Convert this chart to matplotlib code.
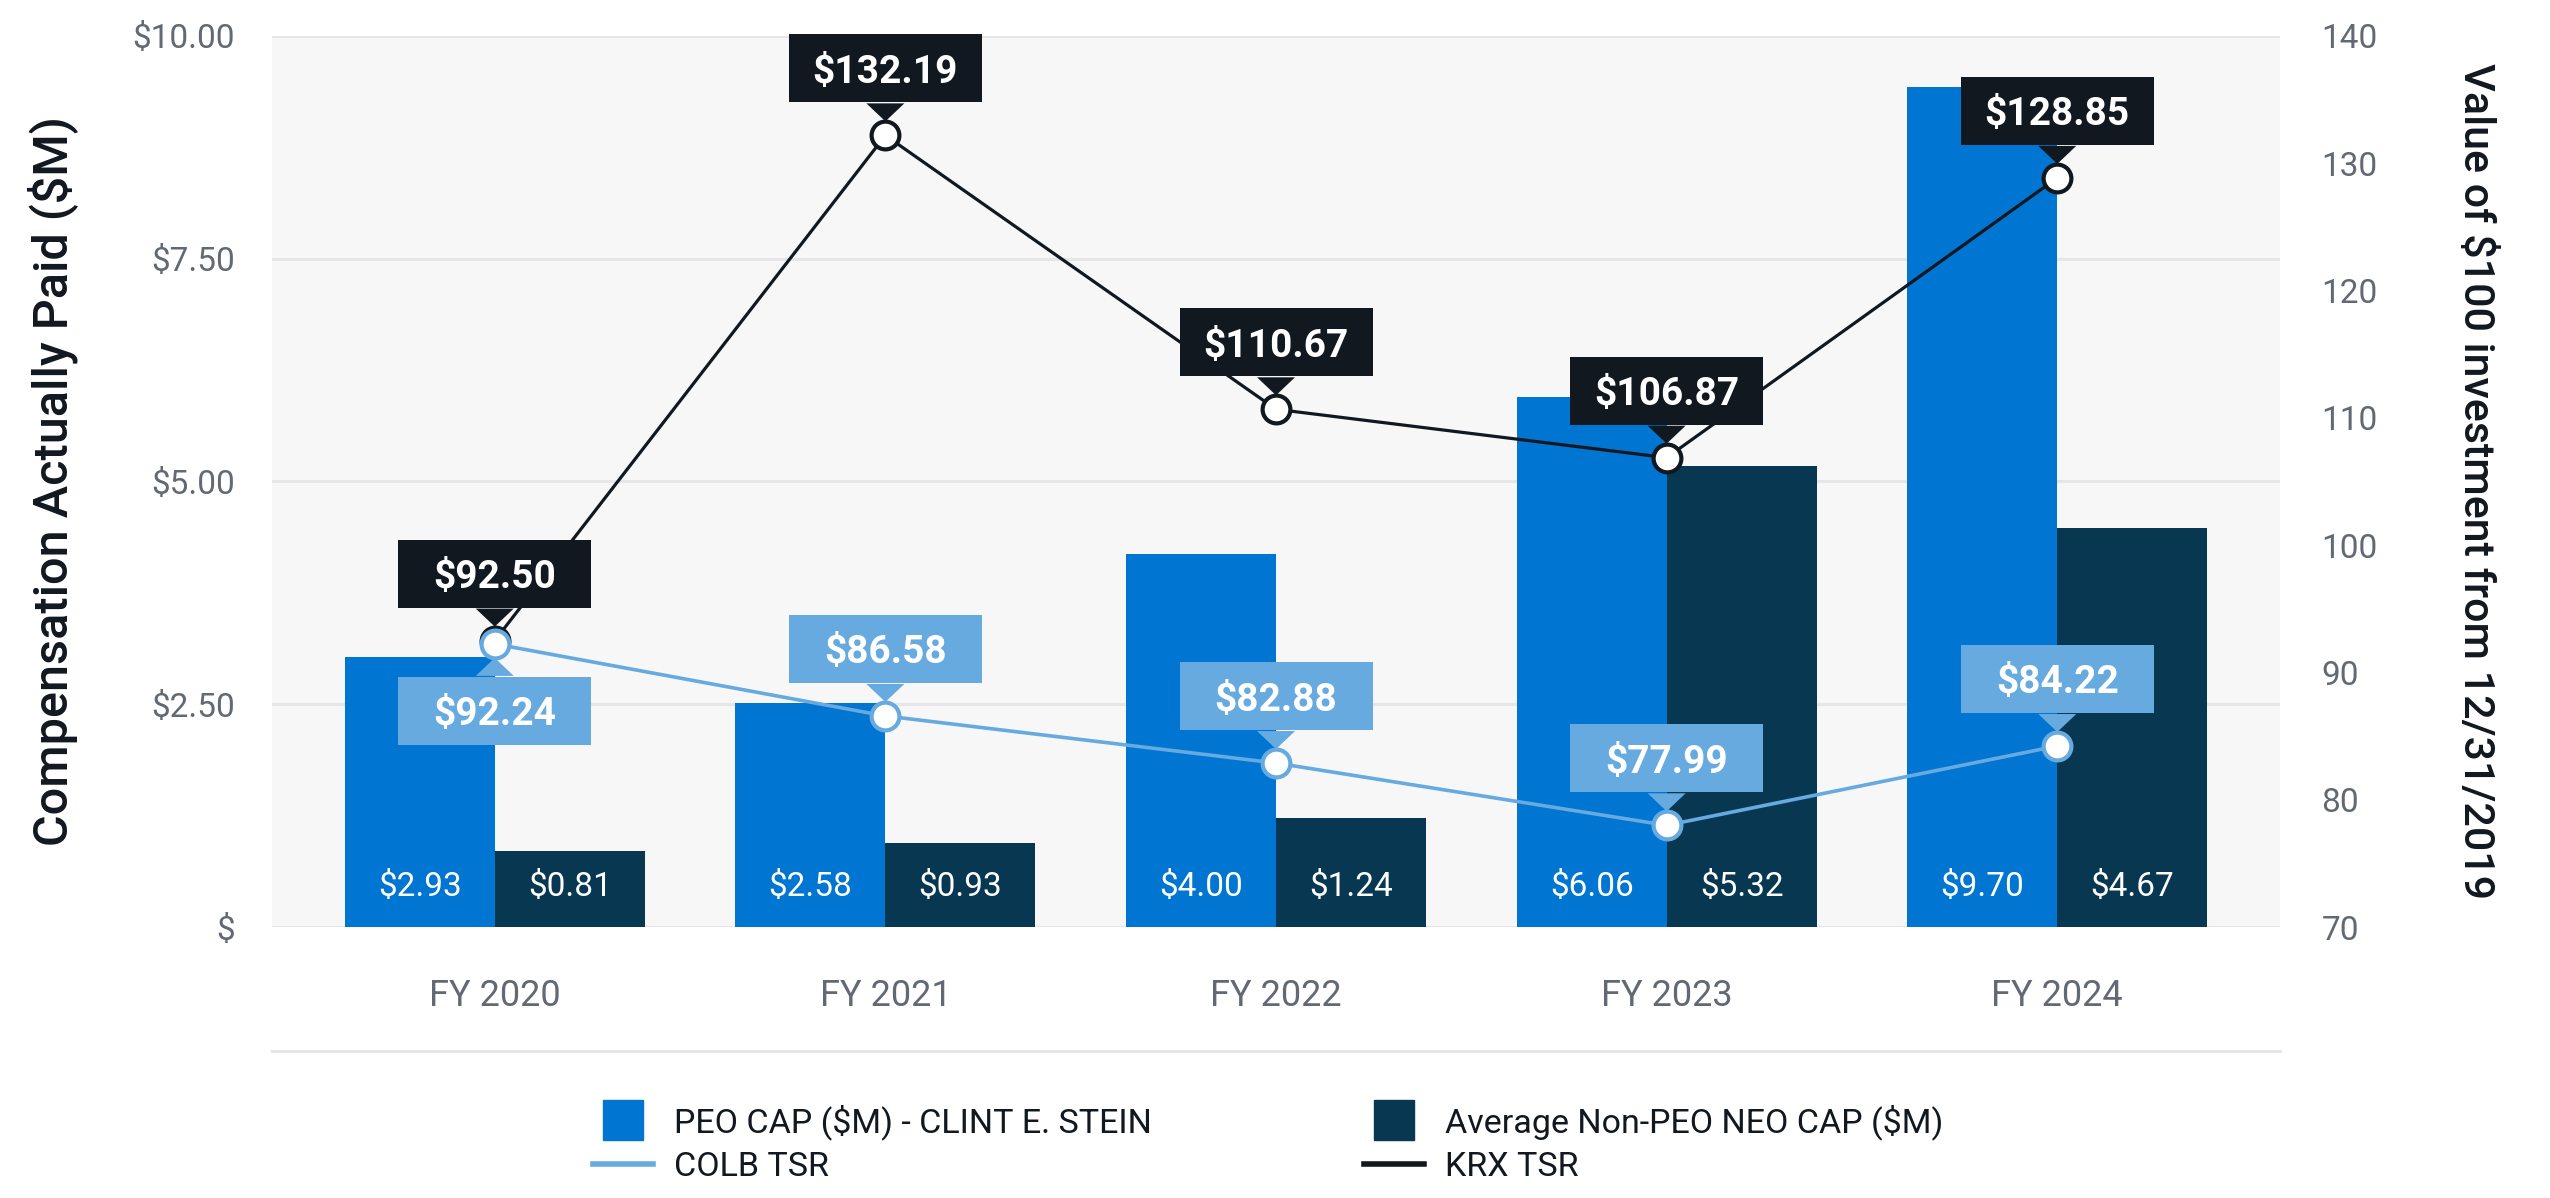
import matplotlib
matplotlib.use("Agg")
import matplotlib.pyplot as plt
from matplotlib.patches import Rectangle, Polygon
from matplotlib.transforms import ScaledTranslation
from matplotlib.lines import Line2D

plt.rcParams['font.family'] = ['Roboto', 'DejaVu Sans']

# data
years          = ["FY 2020", "FY 2021", "FY 2022", "FY 2023", "FY 2024"]
peo_cap        = [3.03, 2.51, 4.19, 5.95, 9.43]          # bar heights as drawn ($M)
peo_cap_labels = ["$2.93", "$2.58", "$4.00", "$6.06", "$9.70"]
neo_cap        = [0.85, 0.94, 1.22, 5.17, 4.48]
neo_cap_labels = ["$0.81", "$0.93", "$1.24", "$5.32", "$4.67"]
colb_tsr       = [92.24, 86.58, 82.88, 77.99, 84.22]
krx_tsr        = [92.50, 132.19, 110.67, 106.87, 128.85]

# colors
PEO   = "#0075D1"
NEO   = "#083752"
COLB  = "#66AAE0"
KRX   = "#111820"
BG    = "#F7F7F7"
GRID  = "#E6E6E9"
TICK  = "#626975"

fig = plt.figure(figsize=(25.5, 11.98), dpi=100)
fig.subplots_adjust(left=0.1067, right=0.8941, bottom=0.2262, top=0.970)
ax = fig.add_subplot(111)
ax2 = ax.twinx()

x = list(range(len(years)))
bw = 0.384

# bars
ax.bar([i - bw / 2 for i in x], peo_cap, width=bw, color=PEO, zorder=2)
ax.bar([i + bw / 2 for i in x], neo_cap, width=bw, color=NEO, zorder=2)
for i in x:
    ax.text(i - bw / 2, 0.45, peo_cap_labels[i], ha='center', va='center', color='white', fontsize=24, zorder=3)
    ax.text(i + bw / 2, 0.45, neo_cap_labels[i], ha='center', va='center', color='white', fontsize=24, zorder=3)

ax.set_xlim(-0.57, 4.57)
ax.set_ylim(0, 10)
ax.set_yticks([0, 2.5, 5, 7.5, 10])
ax.set_yticklabels(["$", "$2.50", "$5.00", "$7.50", "$10.00"])
ax.set_xticks(x)
ax.set_xticklabels(years)
ax.set_facecolor(BG)
ax.set_axisbelow(True)
ax.grid(axis='y', color=GRID, linewidth=2.2)
for s in ax.spines.values():
    s.set_visible(False)
for s in ax2.spines.values():
    s.set_visible(False)
ax.tick_params(axis='y', length=0, pad=27, labelsize=24, labelcolor=TICK)
ax.tick_params(axis='x', length=0, pad=37, labelsize=26, labelcolor=TICK)
ax.set_ylabel("Compensation Actually Paid ($M)", fontsize=35, fontweight='medium', color=KRX)
ax.yaxis.set_label_coords(-0.0966, 0.5)

# lines
ax2.plot(x, krx_tsr, color=KRX, lw=2.3, marker='o', ms=20, mfc='white', mec=KRX, mew=3, zorder=3)
ax2.plot(x, colb_tsr, color=COLB, lw=2.6, marker='o', ms=20, mfc='white', mec=COLB, mew=3, zorder=4)
ax2.set_ylim(70, 140)
ax2.set_yticks(range(70, 141, 10))
ax2.tick_params(axis='y', length=0, pad=30, labelsize=24, labelcolor=TICK)
ax2.set_ylabel("Value of $100 investment from 12/31/2019", fontsize=31, fontweight='medium',
               color=KRX, rotation=-90)
ax2.yaxis.set_label_coords(1.1076, 0.5)


def callout(axis, xv, yv, text, color, below=False):
    tr = fig.dpi_scale_trans + ScaledTranslation(xv, yv, axis.transData)
    w, h, gap, tip, half = 1.93, 0.68, 0.33, 0.14, 0.19
    if below:
        y0 = -gap - h
        tri = [(-half, -gap + 0.01), (half, -gap + 0.01), (0, -tip)]
    else:
        y0 = gap
        tri = [(-half, gap - 0.01), (half, gap - 0.01), (0, tip)]
    axis.add_patch(Rectangle((-w / 2, y0), w, h, transform=tr, fc=color, ec='none',
                             zorder=6, clip_on=False))
    axis.add_patch(Polygon(tri, closed=True, transform=tr, fc=color, ec='none',
                           zorder=6, clip_on=False))
    axis.text(0, y0 + h / 2, text, transform=tr, ha='center', va='center_baseline',
              color='white', fontsize=28, fontweight='bold', zorder=7)


for i in x:
    callout(ax2, i, krx_tsr[i], f"${krx_tsr[i]:.2f}", KRX)
    callout(ax2, i, colb_tsr[i], f"${colb_tsr[i]:.2f}", COLB, below=(i == 0))

ax2.set_ylim(70, 140)
ax.set_xlim(-0.57, 4.57)

# bottom rule
fig.add_artist(Line2D([0.1067, 0.8941], [0.1227, 0.1227], transform=fig.transFigure,
                      color="#E6E6E6", lw=2.2))

# legend
handles = [
    Line2D([0], [0], marker='s', ms=29.5, color=PEO, linestyle='none', label="PEO CAP ($M) - CLINT E. STEIN"),
    Line2D([0], [0], color=COLB, lw=4, label="COLB TSR"),
    Line2D([0], [0], marker='s', ms=29.5, color=NEO, linestyle='none', label="Average Non-PEO NEO CAP ($M)"),
    Line2D([0], [0], color=KRX, lw=4, label="KRX TSR"),
]
fig.legend(handles=handles, ncol=2, loc='upper left', bbox_to_anchor=(0.2325, 0.0785),
           frameon=False, fontsize=24.5, handlelength=1.76, handletextpad=0.62,
           columnspacing=6.25, labelspacing=0.33, borderpad=0, borderaxespad=0,
           labelcolor=KRX)

fig.savefig("out.png", dpi=100)
